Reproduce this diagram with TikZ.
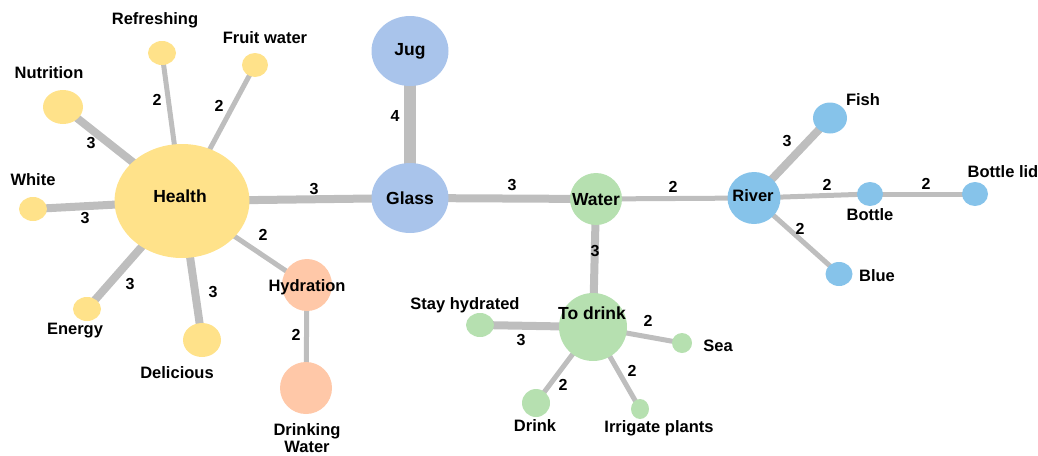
\documentclass[tikz,border=0pt]{standalone}
\usepackage{fontspec}
\setmainfont{Liberation Sans}
\usetikzlibrary{shapes.geometric,backgrounds}
\definecolor{hyel}{HTML}{FFE28A}
\definecolor{hblu}{HTML}{A9C4EB}
\definecolor{hsal}{HTML}{FFC8A8}
\definecolor{hgrn}{HTML}{B6E0B0}
\definecolor{hsky}{HTML}{86C3EA}
\definecolor{hedge}{HTML}{BEBEBE}
\tikzset{
  blob/.style 2 args={ellipse, draw=none, inner sep=0, minimum width=#1pt, minimum height=#2pt,
    font=\bfseries\fontsize{17.5}{19}\selectfont},
  txt/.style={font=\bfseries\fontsize{16.5}{18}\selectfont, inner sep=0, align=center},
  big/.style={font=\bfseries\fontsize{17.5}{19}\selectfont},
  wt/.style={font=\bfseries\fontsize{16}{18}\selectfont, inner sep=0},
  e2/.style={draw=hedge, line width=5pt},
  e3/.style={draw=hedge, line width=8pt},
  e4/.style={draw=hedge, line width=12pt}
}
\begin{document}
\begin{tikzpicture}[x=1pt,y=-1pt]
	\useasboundingbox (0,0) rectangle (1038,455);
	% health cluster
	\node[blob={135}{114}, fill=hyel] (health) at (182,201) {};
	\node[blob={28}{24}, fill=hyel] (refresh) at (162,53) {};
	\node[blob={26}{24}, fill=hyel] (fruit) at (255,65) {};
	\node[blob={40}{34}, fill=hyel] (nutri) at (63,107) {};
	\node[blob={28}{24}, fill=hyel] (white) at (33,209) {};
	\node[blob={28}{24}, fill=hyel] (energy) at (87,309) {};
	\node[blob={38}{34}, fill=hyel] (delic) at (202,340) {};
	\node[blob={50}{52}, fill=hsal] (hydra) at (307,285) {};
	\node[blob={52}{52}, fill=hsal] (drinkw) at (306,388) {};
	% middle
	\node[blob={77}{70}, fill=hblu] (jug) at (410,51) {Jug};
	\node[blob={77}{70}, fill=hblu] (glass) at (410,198) {Glass};
	\node[blob={52}{52}, fill=hgrn] (water) at (596,199) {};
	\node[blob={68}{68}, fill=hgrn] (todrink) at (593,327) {};
	\node[blob={28}{24}, fill=hgrn] (stay) at (480,325) {};
	\node[blob={20}{20}, fill=hgrn] (sea) at (682,343) {};
	\node[blob={28}{28}, fill=hgrn] (drink) at (536,403) {};
	\node[blob={18}{20}, fill=hgrn] (irrig) at (640,409) {};
	% river cluster
	\node[blob={53}{52}, fill=hsky] (river) at (754,198) {};
	\node[blob={34}{31}, fill=hsky] (fish) at (830,118) {};
	\node[blob={26}{24}, fill=hsky] (bottle) at (870,194) {};
	\node[blob={26}{24}, fill=hsky] (lid) at (975,194) {};
	\node[blob={27}{24}, fill=hsky] (blue) at (839,274) {};
	% connectors
	\begin{scope}[on background layer]
	\draw[e2] (health.center) -- (refresh.center);
	\draw[e2] (health.center) -- (fruit.center);
	\draw[e3] (health.center) -- (nutri.center);
	\draw[e3] (health.center) -- (white.center);
	\draw[e3] (health.center) -- (energy.center);
	\draw[e3] (health.center) -- (delic.center);
	\draw[e2] (health.center) -- (hydra.center);
	\draw[e2] (hydra.center) -- (drinkw.center);
	\draw[e3] (health.center) -- (glass.center);
	\draw[e4] (glass.center) -- (jug.center);
	\draw[e3] (glass.center) -- (water.center);
	\draw[e2] (water.center) -- (river.center);
	\draw[e3] (water.center) -- (todrink.center);
	\draw[e3] (todrink.center) -- (stay.center);
	\draw[e2] (todrink.center) -- (sea.center);
	\draw[e2] (todrink.center) -- (drink.center);
	\draw[e2] (todrink.center) -- (irrig.center);
	\draw[e3] (river.center) -- (fish.center);
	\draw[e2] (river.center) -- (bottle.center);
	\draw[e2] (bottle.center) -- (lid.center);
	\draw[e2] (river.center) -- (blue.center);
	\end{scope}
	% texts
	\node[txt, big] (health-t) at (180,196) {Health};
	\node[txt] (hydra-t) at (307,287) {Hydration};
	\node[txt, big] (water-t) at (596,200) {Water};
	\node[txt, big] (todrink-t) at (592,313) {To drink};
	\node[txt] (river-t) at (753,196) {River};
	\node[txt] (refresh-t) at (155,20) {Refreshing};
	\node[txt] (fruit-t) at (265,38) {Fruit water};
	\node[txt] (nutri-t) at (49,73) {Nutrition};
	\node[txt] (white-t) at (33,180) {White};
	\node[txt] (energy-t) at (75,331) {Energy};
	\node[txt] (delic-t) at (177,373) {Delicious};
	\node[txt] (drinkw-t) at (307,438) {Drinking\\[-1pt]Water};
	\node[txt] (stay-t) at (465,305) {Stay hydrated};
	\node[txt] (sea-t) at (718,346) {Sea};
	\node[txt] (drink-t) at (535,426) {Drink};
	\node[txt] (irrig-t) at (659,428) {Irrigate plants};
	\node[txt] (fish-t) at (863,100) {Fish};
	\node[txt] (bottle-t) at (870,215) {Bottle};
	\node[txt] (lid-t) at (1003,172) {Bottle lid};
	\node[txt] (blue-t) at (877,276) {Blue};
	% weights
	\node[wt] (w-hr) at (157,100) {2};
	\node[wt] (w-hf) at (219,106) {2};
	\node[wt] (w-hn) at (91,143) {3};
	\node[wt] (w-hw) at (85,218) {3};
	\node[wt] (w-he) at (130,284) {3};
	\node[wt] (w-hd) at (213,292) {3};
	\node[wt] (w-hh) at (263,235) {2};
	\node[wt] (w-hy) at (296,335) {2};
	\node[wt] (w-hg) at (314,189) {3};
	\node[wt] (w-gj) at (395,116) {4};
	\node[wt] (w-gw) at (512,185) {3};
	\node[wt] (w-wr) at (673,187) {2};
	\node[wt] (w-wt) at (595,251) {3};
	\node[wt] (w-ts) at (521,340) {3};
	\node[wt] (w-te) at (648,321) {2};
	\node[wt] (w-td) at (563,385) {2};
	\node[wt] (w-ti) at (632,371) {2};
	\node[wt] (w-rf) at (787,141) {3};
	\node[wt] (w-rb) at (827,185) {2};
	\node[wt] (w-bl) at (926,184) {2};
	\node[wt] (w-ru) at (800,229) {2};
\end{tikzpicture}
\end{document}
